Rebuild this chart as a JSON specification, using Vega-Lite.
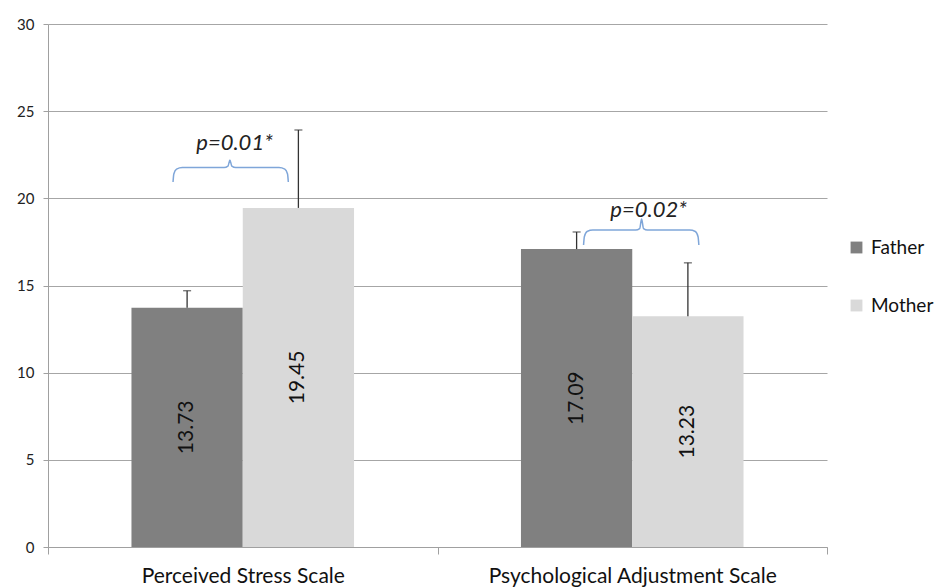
{
  "$schema": "https://vega.github.io/schema/vega-lite/v6.json",
  "width": 779,
  "height": 523,
  "autosize": {"type": "none"},
  "padding": {"left": 48, "top": 24, "right": 112, "bottom": 40},
  "background": "white",
  "config": {"view": {"stroke": null}, "font": "Lato"},
  "datasets": {
    "bars": [
      {"scale": "Perceived Stress Scale", "parent": "Father", "value": 13.73, "upper": 14.7},
      {"scale": "Perceived Stress Scale", "parent": "Mother", "value": 19.45, "upper": 23.92},
      {"scale": "Psychological Adjustment Scale", "parent": "Father", "value": 17.09, "upper": 18.07},
      {"scale": "Psychological Adjustment Scale", "parent": "Mother", "value": 13.23, "upper": 16.3}
    ],
    "brace": [
      {"id": 1, "i": 1, "bx": 0.321, "by": 20.94},
      {"id": 1, "i": 2, "bx": 0.323, "by": 21.4},
      {"id": 1, "i": 3, "bx": 0.330, "by": 21.68},
      {"id": 1, "i": 4, "bx": 0.345, "by": 21.77},
      {"id": 1, "i": 5, "bx": 0.452, "by": 21.77},
      {"id": 1, "i": 6, "bx": 0.462, "by": 21.85},
      {"id": 1, "i": 7, "bx": 0.467, "by": 22.2},
      {"id": 1, "i": 8, "bx": 0.472, "by": 21.85},
      {"id": 1, "i": 9, "bx": 0.482, "by": 21.77},
      {"id": 1, "i": 10, "bx": 0.593, "by": 21.77},
      {"id": 1, "i": 11, "bx": 0.608, "by": 21.68},
      {"id": 1, "i": 12, "bx": 0.615, "by": 21.4},
      {"id": 1, "i": 13, "bx": 0.617, "by": 20.94},
      {"id": 2, "i": 1, "bx": 1.375, "by": 17.32},
      {"id": 2, "i": 2, "bx": 1.377, "by": 17.8},
      {"id": 2, "i": 3, "bx": 1.384, "by": 18.1},
      {"id": 2, "i": 4, "bx": 1.399, "by": 18.18},
      {"id": 2, "i": 5, "bx": 1.509, "by": 18.18},
      {"id": 2, "i": 6, "bx": 1.519, "by": 18.26},
      {"id": 2, "i": 7, "bx": 1.524, "by": 18.81},
      {"id": 2, "i": 8, "bx": 1.529, "by": 18.26},
      {"id": 2, "i": 9, "bx": 1.539, "by": 18.18},
      {"id": 2, "i": 10, "bx": 1.647, "by": 18.18},
      {"id": 2, "i": 11, "bx": 1.662, "by": 18.1},
      {"id": 2, "i": 12, "bx": 1.669, "by": 17.8},
      {"id": 2, "i": 13, "bx": 1.671, "by": 17.32}
    ],
    "ptext": [
      {"bx": 0.479, "by": 23.2, "label": "p=0.01*"},
      {"bx": 1.542, "by": 19.33, "label": "p=0.02*"}
    ]
  },
  "resolve": {"scale": {"x": "independent", "y": "independent"}},
  "layer": [
    {
      "data": {"name": "bars"},
      "encoding": {
        "x": {
          "field": "scale", "type": "nominal",
          "scale": {"paddingInner": 0, "paddingOuter": 0},
          "axis": {
            "title": null, "labelAngle": 0, "tickBand": "extent",
            "tickSize": 7, "tickColor": "#a0a0a0", "domainColor": "#a0a0a0",
            "labelFontSize": 21, "labelColor": "#111", "labelPadding": 11, "labelLimit": 0
          }
        },
        "xOffset": {"field": "parent", "scale": {"paddingInner": 0, "paddingOuter": 0.75}},
        "y": {
          "field": "value", "type": "quantitative",
          "scale": {"domain": [0, 30], "nice": false},
          "axis": {
            "title": null, "values": [0, 5, 10, 15, 20, 25, 30],
            "grid": true, "gridColor": "#a6a6a6", "domainColor": "#a0a0a0",
            "tickColor": "#a0a0a0", "tickSize": 5, "labelFontSize": 15,
            "labelColor": "#222", "labelPadding": 9
          }
        }
      },
      "layer": [
        {
          "mark": {"type": "bar"},
          "encoding": {
            "color": {
              "field": "parent", "type": "nominal",
              "scale": {"domain": ["Father", "Mother"], "range": ["#808080", "#d9d9d9"]},
              "legend": {
                "title": null, "orient": "none", "legendX": 799, "legendY": 214,
                "symbolType": "square", "symbolSize": 140, "symbolStrokeWidth": 0,
                "labelFontSize": 19, "labelColor": "#111", "rowPadding": 38,
                "labelOffset": 5, "padding": 0, "labelLimit": 0
              }
            }
          }
        },
        {
          "mark": {"type": "rule", "color": "#333", "strokeWidth": 1.3},
          "encoding": {"y2": {"field": "upper"}}
        },
        {
          "mark": {"type": "tick", "color": "#333", "size": 8, "thickness": 1.3},
          "encoding": {"y": {"field": "upper", "type": "quantitative"}}
        }
      ]
    },
    {
      "data": {"name": "bars"},
      "mark": {"type": "text", "angle": 270, "fontSize": 21, "color": "#111", "baseline": "middle", "align": "center"},
      "encoding": {
        "x": {"field": "scale", "type": "nominal", "scale": {"paddingInner": 0, "paddingOuter": 0}, "axis": null},
        "xOffset": {"field": "parent"},
        "y": {"field": "value", "type": "quantitative", "scale": {"domain": [0, 60], "nice": false}, "axis": null},
        "text": {"field": "value", "type": "quantitative", "format": ".2f"}
      }
    },
    {
      "layer": [
        {
          "data": {"name": "brace"},
          "mark": {"type": "line", "color": "#7fa6d9", "strokeWidth": 1.5, "interpolate": "monotone"},
          "encoding": {
            "x": {"field": "bx", "type": "quantitative", "scale": {"domain": [0, 2], "nice": false}, "axis": null},
            "y": {"field": "by", "type": "quantitative", "scale": {"domain": [0, 30], "nice": false}, "axis": null},
            "detail": {"field": "id"},
            "order": {"field": "i"}
          }
        },
        {
          "data": {"name": "ptext"},
          "mark": {"type": "text", "fontStyle": "italic", "fontSize": 22, "color": "#222", "align": "center", "baseline": "middle"},
          "encoding": {
            "x": {"field": "bx", "type": "quantitative"},
            "y": {"field": "by", "type": "quantitative"},
            "text": {"field": "label"}
          }
        }
      ]
    }
  ]
}
